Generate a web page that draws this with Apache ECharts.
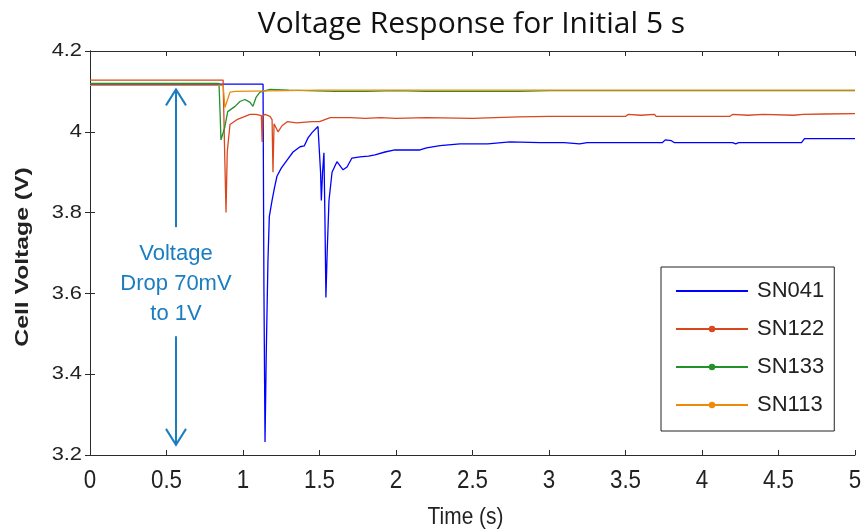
<!DOCTYPE html>
<html>
<head>
<meta charset="utf-8">
<script src="https://cdn.jsdelivr.net/npm/echarts@6/dist/echarts.min.js"></script>
<style>html,body{margin:0;padding:0;background:#fff}#c{width:862px;height:532px}</style>
</head>
<body>
<div id="c"></div>
<script>
const seriesNames = ['SN041', 'SN122', 'SN133', 'SN113'];
const seriesColors = ['#0000FF', '#D9471F', '#23902A', '#EE8A0A'];
const xTicks = [0, 0.5, 1, 1.5, 2, 2.5, 3, 3.5, 4, 4.5, 5];
const yTicks = [3.2, 3.4, 3.6, 3.8, 4, 4.2];
const titleText = 'Voltage Response for Initial 5 s';
const xName = 'Time (s)';
const yName = 'Cell Voltage (V)';

const sn041 = [[0,4.118],[1.131,4.118],[1.137,3.60],[1.144,3.232],[1.152,3.45],[1.163,3.68],[1.172,3.79],
  [1.19,3.83],[1.205,3.86],[1.222,3.89],[1.25,3.91],[1.288,3.93],[1.327,3.95],[1.373,3.963],[1.40,3.965],
  [1.425,3.985],[1.451,3.998],[1.490,4.013],[1.503,4.013],[1.507,3.90],[1.512,3.83],[1.52,3.90],[1.529,3.948],
  [1.535,3.80],[1.542,3.59],[1.55,3.70],[1.562,3.83],[1.582,3.90],[1.614,3.926],[1.654,3.906],[1.680,3.913],
  [1.712,3.935],[1.765,3.938],[1.82,3.94],[1.863,3.943],[1.928,3.95],[1.993,3.955],[2.157,3.955],[2.2,3.96],
  [2.288,3.966],[2.418,3.97],[2.6,3.97],[2.745,3.975],[2.941,3.973],[3.1,3.973],[3.2,3.970],[3.25,3.973],
  [3.6,3.973],[3.74,3.973],[3.76,3.98],[3.80,3.978],[3.82,3.973],[3.89,3.973],[4.2,3.973],[4.22,3.970],
  [4.24,3.973],[4.5,3.973],[4.51,3.970],[4.52,3.973],[4.65,3.973],[4.67,3.983],[5,3.983]];

const sn122 = [[0,4.128],[0.87,4.128],[0.88,3.95],[0.889,3.80],[0.897,3.95],[0.915,4.018],[0.96,4.03],
  [1.013,4.038],[1.046,4.043],[1.085,4.043],[1.12,4.04],[1.125,3.975],[1.13,4.04],[1.144,4.043],[1.176,4.038],
  [1.19,4.03],[1.196,3.90],[1.203,4.02],[1.216,4.02],[1.229,4.0],[1.255,4.015],[1.29,4.025],[1.35,4.022],
  [1.45,4.025],[1.5,4.025],[1.57,4.035],[1.7,4.035],[1.8,4.033],[1.9,4.035],[2.0,4.033],[2.2,4.035],
  [2.5,4.033],[2.8,4.037],[3.0,4.038],[3.3,4.038],[3.5,4.038],[3.516,4.043],[3.6,4.041],[3.69,4.043],
  [3.70,4.038],[4.18,4.038],[4.2,4.043],[4.3,4.041],[4.4,4.043],[4.6,4.041],[4.66,4.043],[4.8,4.044],[5,4.045]];

const sn133 = [[0,4.12],[0.843,4.12],[0.85,4.05],[0.856,3.98],[0.88,4.01],[0.9,4.05],[0.948,4.063],
  [0.98,4.075],[1.013,4.08],[1.046,4.073],[1.065,4.063],[1.085,4.085],[1.111,4.098],[1.176,4.105],
  [1.3,4.103],[1.6,4.1],[1.8,4.1],[2.0,4.102],[2.2,4.1],[2.5,4.1],[2.8,4.1],[3.0,4.102],[3.5,4.102],[4.0,4.102],[5,4.102]];

const sn113 = [[0,4.115],[0.87,4.115],[0.882,4.06],[0.915,4.098],[0.95,4.1],[1.5,4.103],[2.0,4.103],
  [2.6,4.103],[3.0,4.103],[3.5,4.103],[4.0,4.103],[5,4.103]];

// annotation: [x, arrowTop, upperEnd, lowerStart, arrowBottom, textY]
const annotation = [[0.562, 4.105, 3.764, 3.494, 3.225, 3.624]];
const annotationText = 'Voltage\nDrop 70mV\nto 1V';

const chart = echarts.init(document.getElementById('c'));
const axisColor = '#2b2b2b';
const textColor = '#222';
const lineSeries = [sn041, sn122, sn133, sn113].map((d, i) => ({
  name: seriesNames[i],
  type: 'line',
  data: d,
  symbol: i === 0 ? 'none' : 'circle',
  symbolSize: 6,
  showSymbol: false,
  silent: true,
  animation: false,
  lineStyle: { width: 1.3, color: seriesColors[i] },
  itemStyle: { color: seriesColors[i] }
}));

const annotSeries = {
  type: 'custom',
  silent: true,
  animation: false,
  data: annotation,
  renderItem: function (params, api) {
    const x = api.coord([api.value(0), api.value(1)])[0];
    const yTop = api.coord([api.value(0), api.value(1)])[1];
    const yUp = api.coord([api.value(0), api.value(2)])[1];
    const yLow = api.coord([api.value(0), api.value(3)])[1];
    const yBot = api.coord([api.value(0), api.value(4)])[1];
    const yText = api.coord([api.value(0), api.value(5)])[1];
    const st = { stroke: '#1A7DC2', lineWidth: 2, fill: null };
    return {
      type: 'group',
      children: [
        { type: 'line', shape: { x1: x, y1: yTop, x2: x, y2: yUp }, style: st },
        { type: 'line', shape: { x1: x, y1: yLow, x2: x, y2: yBot }, style: st },
        { type: 'polyline', shape: { points: [[x - 10, yTop + 16], [x, yTop], [x + 10, yTop + 16]] }, style: st },
        { type: 'polyline', shape: { points: [[x - 10, yBot - 16], [x, yBot], [x + 10, yBot - 16]] }, style: st },
        { type: 'text', style: { text: annotationText, x: x, y: yText, align: 'center', verticalAlign: 'middle',
          font: '22px Arial, "Liberation Sans"', lineHeight: 30, fill: '#1A7DC2' } }
      ]
    };
  }
};

const legendData = seriesNames.map((n, i) => i === 0 ? { name: n, itemStyle: { opacity: 0 } } : { name: n });

chart.setOption({
  animation: false,
  backgroundColor: '#fff',
  grid: { left: 90, right: 7, top: 51, bottom: 77, show: false },
  legend: {
    data: legendData,
    orient: 'vertical',
    left: 661, top: 267,
    padding: [13, 10, 15, 14],
    itemWidth: 72, itemHeight: 8, itemGap: 16,
    borderColor: '#222', borderWidth: 1, backgroundColor: '#fff',
    textStyle: { fontFamily: 'Arial, "Liberation Sans"', fontSize: 22, color: textColor, padding: [0, 0, 0, 4] }
  },
  xAxis: [{
    type: 'value', min: 0, max: 5, interval: 0.5,
    axisLine: { lineStyle: { color: axisColor, width: 1 } },
    axisTick: { inside: true, length: 5, lineStyle: { color: axisColor } },
    axisLabel: { show: false },
    splitLine: { show: false }
  }, {
    type: 'value', min: 0, max: 5, interval: 0.5, position: 'top',
    axisLine: { show: true, lineStyle: { color: axisColor, width: 1 } },
    axisTick: { inside: true, length: 5, lineStyle: { color: axisColor } },
    axisLabel: { show: false }, splitLine: { show: false }
  }],
  yAxis: [{
    type: 'value', min: 3.2, max: 4.2, interval: 0.2,
    axisLine: { show: true, lineStyle: { color: axisColor, width: 1 } },
    axisTick: { show: true, inside: true, length: 5, lineStyle: { color: axisColor } },
    axisLabel: { show: false },
    splitLine: { show: false }
  }, {
    type: 'value', min: 3.2, max: 4.2, interval: 0.2, position: 'right',
    axisLine: { show: true, lineStyle: { color: axisColor, width: 1 } },
    axisTick: { show: true, inside: true, length: 5, lineStyle: { color: axisColor } },
    axisLabel: { show: false }, splitLine: { show: false }
  }],
  series: lineSeries.concat([annotSeries])
});

// Tick labels and axis titles placed through the axes' own scales
const yBottomPx = chart.convertToPixel({ yAxisIndex: 0 }, 3.2);
const yTopPx = chart.convertToPixel({ yAxisIndex: 0 }, 4.2);
const xLeftPx = chart.convertToPixel({ xAxisIndex: 0 }, 0);
const xRightPx = chart.convertToPixel({ xAxisIndex: 0 }, 5);
const graphics = [];
xTicks.forEach(v => {
  graphics.push({ type: 'text', x: chart.convertToPixel({ xAxisIndex: 0 }, v), y: yBottomPx + 26, scaleX: 0.86, silent: true,
    style: { text: String(v), font: '26px Arial, "Liberation Sans"', fill: textColor, align: 'center', verticalAlign: 'middle' } });
});
yTicks.forEach(v => {
  graphics.push({ type: 'text', x: xLeftPx - 8, y: chart.convertToPixel({ yAxisIndex: 0 }, v), scaleX: 1.15, silent: true,
    style: { text: String(v), font: '19px Arial, "Liberation Sans"', fill: textColor, align: 'right', verticalAlign: 'middle' } });
});
graphics.push({ type: 'text', x: (xLeftPx + xRightPx) / 2 - 7, y: yBottomPx + 62, scaleX: 0.87, silent: true,
  style: { text: xName, font: '24px Arial, "Liberation Sans"', fill: textColor, align: 'center', verticalAlign: 'middle' } });
graphics.push({ type: 'text', x: xLeftPx - 67, y: (yTopPx + yBottomPx) / 2 + 4, rotation: Math.PI / 2, scaleX: 1.3, silent: true,
  style: { text: yName, font: 'bold 19px Arial, "Liberation Sans"', fill: textColor, align: 'center', verticalAlign: 'middle' } });
graphics.push({ type: 'text', x: (xLeftPx + xRightPx) / 2 - 1, y: 24, silent: true,
  style: { text: titleText, font: '30px "Open Sans"', fill: '#111', align: 'center', verticalAlign: 'middle' } });
chart.setOption({ graphic: graphics });
</script>
</body>
</html>
